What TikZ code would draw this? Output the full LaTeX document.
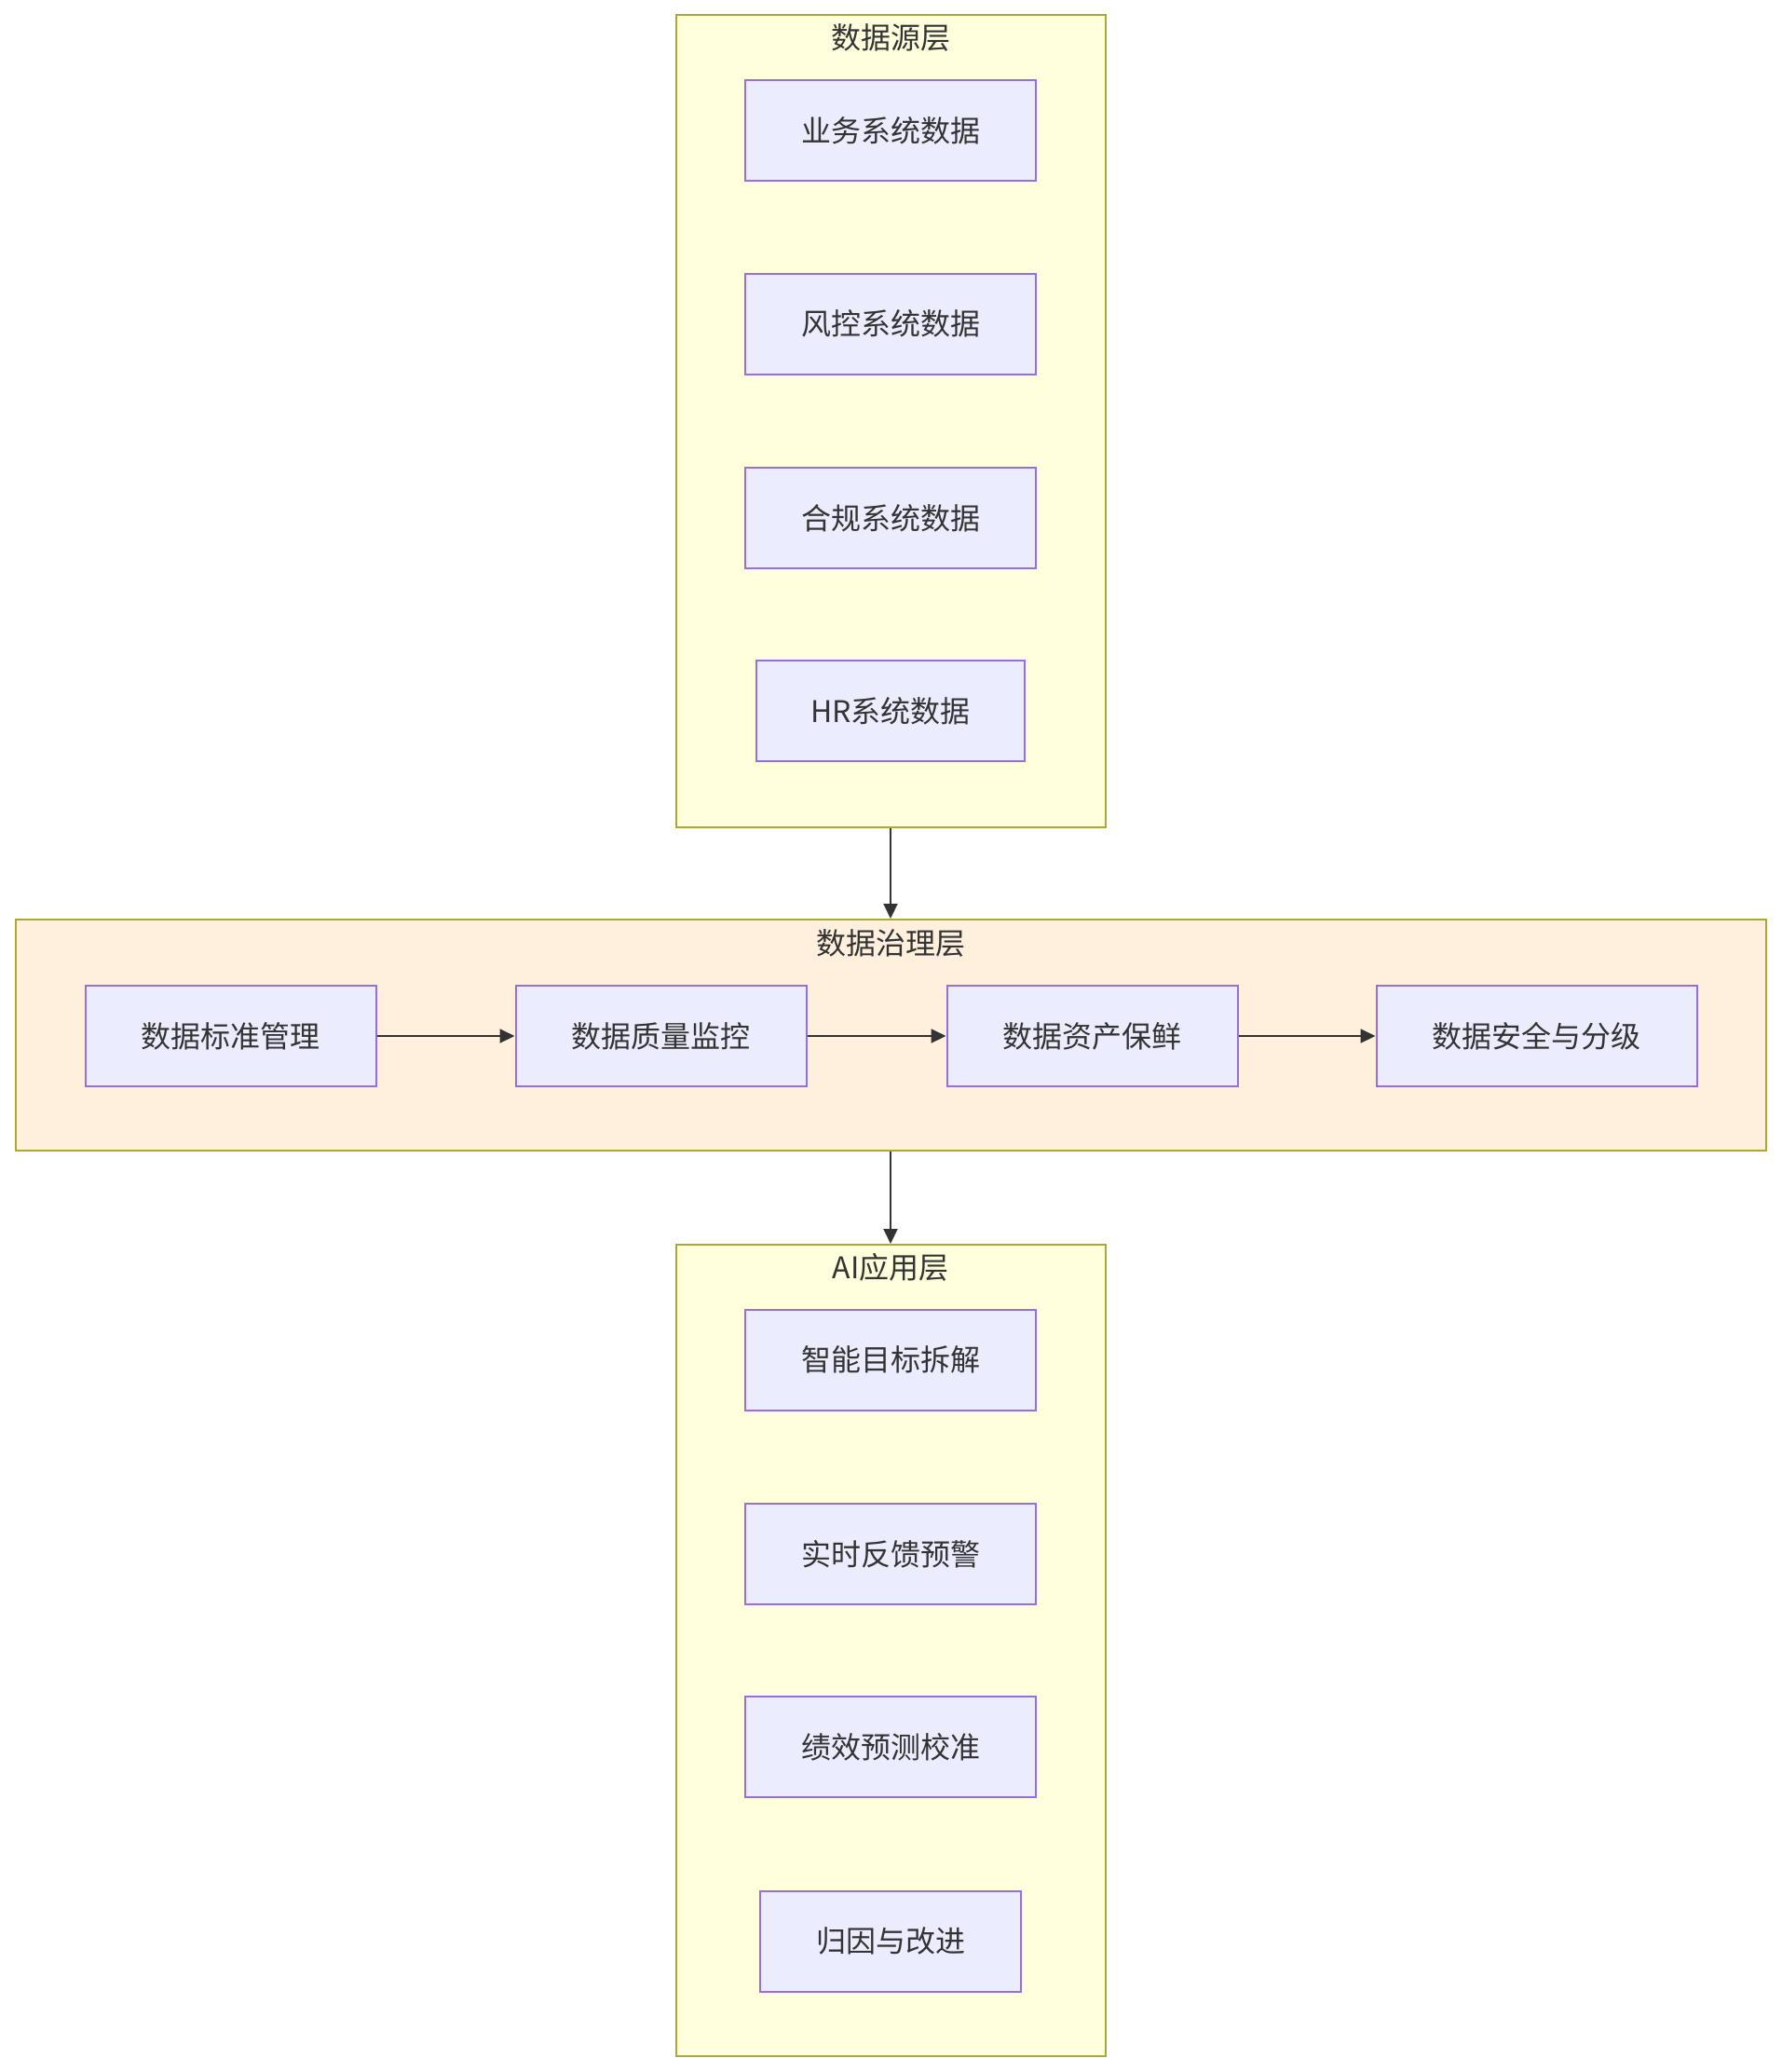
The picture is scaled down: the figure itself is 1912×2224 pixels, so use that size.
\documentclass[tikz,border=0pt]{standalone}
\usepackage{fontspec}
\newfontfamily\cjk{Noto Sans CJK SC}
\usetikzlibrary{arrows.meta}
\definecolor{nodefill}{HTML}{ECECFF}
\definecolor{nodeline}{HTML}{9370DB}
\definecolor{clfill}{HTML}{FFFFDE}
\definecolor{clfilltwo}{HTML}{FFF0DD}
\definecolor{clline}{HTML}{AAAA33}
\definecolor{txt}{HTML}{333333}
\tikzset{
  box/.style={draw=nodeline, fill=nodefill, line width=2pt, minimum height=108pt, minimum width=312pt, inner sep=0pt, font=\cjk\fontsize{32}{38}\selectfont, text=txt},
  cluster/.style={draw=clline, line width=2pt, inner sep=0pt},
  ctitle/.style={font=\cjk\fontsize{32}{38}\selectfont, text=txt, inner sep=0pt},
  arr/.style={draw=txt, line width=2pt, -{Triangle[length=16pt,width=15pt]}}
}
\begin{document}
\begin{tikzpicture}[x=1pt,y=-1pt]
\useasboundingbox (0,0) rectangle (1912,2224);
% clusters
\node[cluster, fill=clfill, minimum width=461pt, minimum height=872pt] (c1) at (956,451.8) {};
\node[cluster, fill=clfilltwo, minimum width=1879pt, minimum height=248pt] (c2) at (956,1111) {};
\node[cluster, fill=clfill, minimum width=461pt, minimum height=871pt] (c3) at (956,1771.5) {};
\node[ctitle] (t1) at (956,40) {数据源层};
\node[ctitle] (t2) at (956,1012) {数据治理层};
\node[ctitle] (t3) at (956,1360) {AI应用层};
% source nodes
\node[box] (s1) at (956,140) {业务系统数据};
\node[box] (s2) at (956,347.5) {风控系统数据};
\node[box] (s3) at (956,556) {合规系统数据};
\node[box, minimum width=288pt] (s4) at (956,763) {HR系统数据};
% governance
\node[box] (g1) at (247.5,1112) {数据标准管理};
\node[box] (g2) at (709.5,1112) {数据质量监控};
\node[box] (g3) at (1172.5,1112) {数据资产保鲜};
\node[box, minimum width=344pt] (g4) at (1649.5,1112) {数据安全与分级};
% AI
\node[box] (a1) at (956,1459.5) {智能目标拆解};
\node[box] (a2) at (956,1668) {实时反馈预警};
\node[box] (a3) at (956,1875) {绩效预测校准};
\node[box, minimum width=280pt] (a4) at (956,2083.5) {归因与改进};
% arrows
\draw[arr] (c1.south) -- (c2.north);
\draw[arr] (c2.south) -- (c3.north);
\draw[arr] (g1.east) -- (g2.west);
\draw[arr] (g2.east) -- (g3.west);
\draw[arr] (g3.east) -- (g4.west);
\end{tikzpicture}
\end{document}
